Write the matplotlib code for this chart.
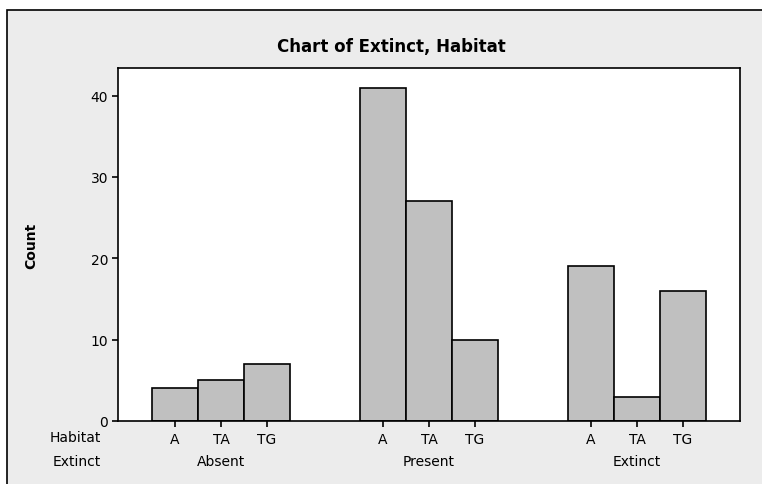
import matplotlib
matplotlib.use("Agg")
import matplotlib.pyplot as plt
from matplotlib.patches import Rectangle

# data ---------------------------------------------------------------------
extinct_groups = ['Absent', 'Present', 'Extinct']
habitats = ['A', 'TA', 'TG']
counts = {
    'Absent': [4, 5, 7],
    'Present': [41, 27, 10],
    'Extinct': [19, 3, 16],
}
# --------------------------------------------------------------------------

plt.rc('font', family='DejaVu Sans', size=10)

fig = plt.figure(figsize=(7.62, 4.85), dpi=100)
fig.patch.set_facecolor('white')
# gray panel with black border (runs off the right and bottom edges)
fig.patches.append(Rectangle((7/762, -0.1), 1.2, 1.1 - 11/485,
                             transform=fig.transFigure, facecolor='#ECECEC',
                             edgecolor='black', linewidth=1.2, zorder=-10))

ax = fig.add_axes([118/762, 1 - 422/485, 622/762, 353/485])
ax.set_facecolor('white')

group_step = 4.52
xs, heights, labels = [], [], []
for g, name in enumerate(extinct_groups):
    for i, hab in enumerate(habitats):
        xs.append(g*group_step + i)
        heights.append(counts[name][i])
        labels.append(hab)

ax.bar(xs, heights, width=1.0, color='#C0C0C0', edgecolor='black', linewidth=1.2)

ax.set_xlim(-0.5 - 34/46, 2*group_step + 2 + 0.5 + 34/46)
ax.set_ylim(0, 43.4)
ax.set_yticks([0, 10, 20, 30, 40])
ax.set_xticks(xs)
ax.set_xticklabels(labels)

for s in ax.spines.values():
    s.set_linewidth(1.2)
ax.tick_params(axis='both', direction='out', length=4, width=1.2, colors='black')
ax.tick_params(axis='x', pad=4)
ax.tick_params(axis='y', pad=3)

# second row of category labels
trans = ax.get_xaxis_transform()
for g, name in enumerate(extinct_groups):
    ax.text(g*group_step + 1, -(462-422)/353, name, transform=trans,
            ha='center', va='center')
ax.text(-(118-101)/622, -(438-422)/353, 'Habitat', transform=ax.transAxes,
        ha='right', va='center')
ax.text(-(118-101)/622, -(462-422)/353, 'Extinct', transform=ax.transAxes,
        ha='right', va='center')

ax.set_ylabel('Count', fontweight='bold')
ax.yaxis.set_label_coords(-(118-38)/622, 0.5)

fig.text(391/762, 1 - 47/485, 'Chart of Extinct, Habitat', fontweight='bold',
         fontsize=12, ha='center', va='center')

fig.savefig('out.png', dpi=100)
